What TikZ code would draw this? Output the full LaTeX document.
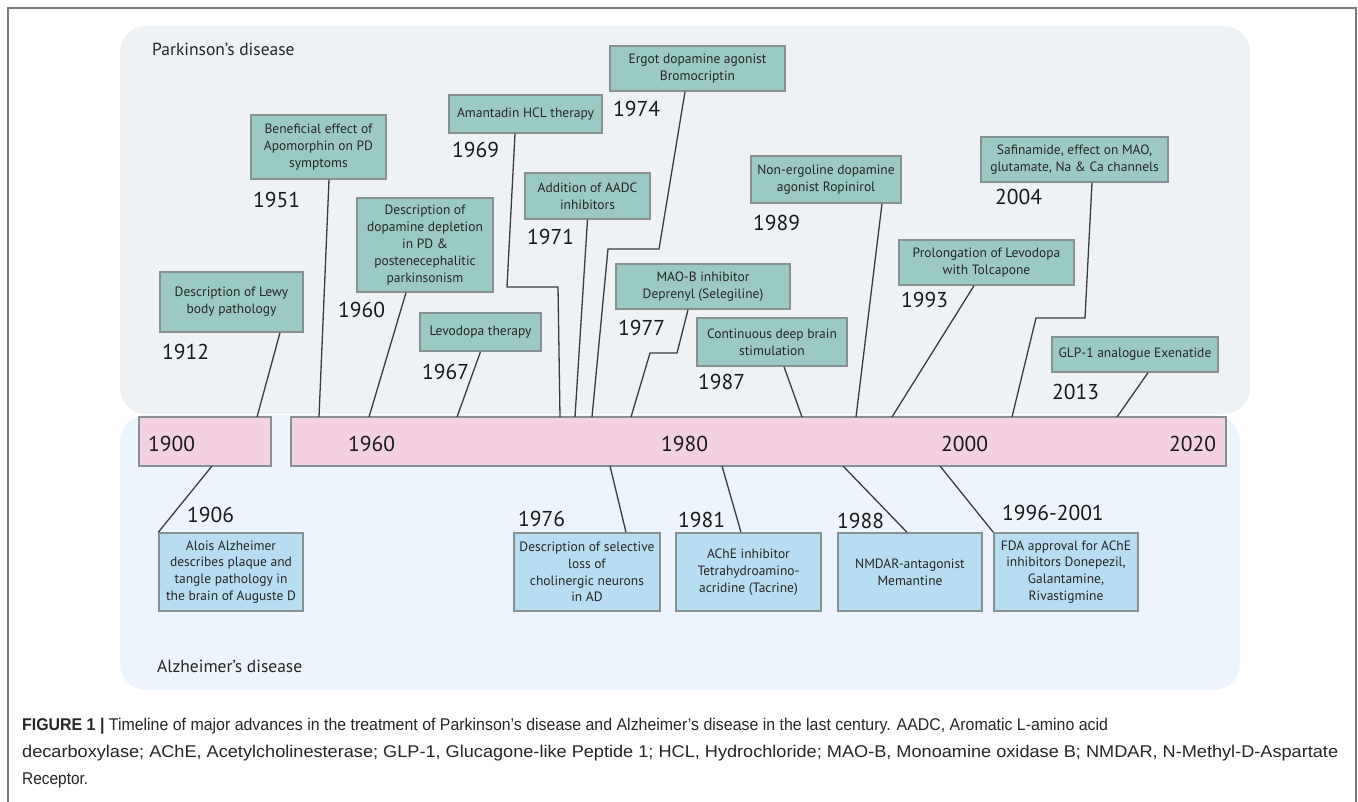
\documentclass[tikz,border=0pt]{standalone}
\usepackage{fontspec}
\usepackage{graphicx}
\setmainfont{PT Sans}
\newfontfamily\capfont[FakeStretch=0.9]{Liberation Sans}
\definecolor{pkbg}{HTML}{EEF2F4}
\definecolor{adbg}{HTML}{EEF4FB}
\definecolor{tealbox}{HTML}{9BCAC4}
\definecolor{bluebox}{HTML}{B6DDF1}
\definecolor{pinkbar}{HTML}{F3D1E3}
\definecolor{edge}{HTML}{879191}
\definecolor{conncol}{HTML}{3C3C3C}
\definecolor{framecol}{HTML}{7A7A7A}
\begin{document}
\begin{tikzpicture}[x=1pt,y=-1pt,
  pbox/.style={draw=edge,fill=tealbox,line width=1.4pt,inner sep=0pt,align=center,
    font=\fontsize{13.5}{16.8}\selectfont,text=black!85},
  abox/.style={draw=edge,fill=bluebox,line width=1.4pt,inner sep=0pt,align=center,
    font=\fontsize{13.5}{16.8}\selectfont,text=black!85},
  bar/.style={draw=edge,fill=pinkbar,line width=1.4pt,inner sep=0pt},
  yr/.style={anchor=west,inner sep=0pt,font=\fontsize{21.5}{21.5}\selectfont,text=black!90},
  conn/.style={draw=conncol,line width=1.3pt},
  title/.style={anchor=west,inner sep=0pt,font=\fontsize{17.5}{17.5}\selectfont,text=black!85}]
\useasboundingbox (0,0) rectangle (1358,802);
\fill[white] (0,0) rectangle (1358,802);
% outer frame
\draw[framecol,line width=1.5pt] (8,802) -- (8,8) -- (1356,8) -- (1356,802);
% panels
\fill[pkbg,rounded corners=26pt] (120,26) rectangle (1250,414);
\fill[adbg,rounded corners=26pt] (120,415) rectangle (1240,690);
\node[title] (pdt) at (152,49) {Parkinson’s disease};
\node[title] (adt) at (157,666) {Alzheimer’s disease};

% bars
\node[bar,minimum width=132pt,minimum height=49pt] (bar1) at (205,441.5) {};
\node[bar,minimum width=935pt,minimum height=49pt] (bar2) at (758.5,441.5) {};
\node[yr] (y1900) at (148,444) {1900};
\node[yr] (y1960b) at (348,444) {1960};
\node[yr] (y1980b) at (661,444) {1980};
\node[yr] (y2000b) at (941,444) {2000};
\node[yr] (y2020b) at (1169,444) {2020};

% Parkinson boxes
\node[pbox,minimum width=143pt,minimum height=60pt] (lewy) at (231.5,302) {Description of Lewy\\body pathology};
\node[pbox,minimum width=135pt,minimum height=64pt] (apo) at (318.5,147) {Beneficial effect of\\Apomorphin on PD\\symptoms};
\node[pbox,minimum width=136pt,minimum height=94pt] (dop) at (425,245) {Description of\\dopamine depletion\\in PD \&\\postenecephalitic\\parkinsonism};
\node[pbox,minimum width=121pt,minimum height=38pt] (levo) at (480.5,332) {Levodopa therapy};
\node[pbox,minimum width=153pt,minimum height=38pt] (aman) at (525.5,114) {Amantadin HCL therapy};
\node[pbox,minimum width=125pt,minimum height=46pt] (aadc) at (587.5,196) {Addition of AADC\\inhibitors};
\node[pbox,minimum width=175pt,minimum height=45pt] (ergot) at (697.5,68.5) {Ergot dopamine agonist\\Bromocriptin};
\node[pbox,minimum width=174pt,minimum height=45pt] (maob) at (703,286.5) {MAO-B inhibitor\\Deprenyl (Selegiline)};
\node[pbox,minimum width=150pt,minimum height=48pt] (dbs) at (772,342) {Continuous deep brain\\stimulation};
\node[pbox,minimum width=150pt,minimum height=47pt] (nerg) at (826,179.5) {Non-ergoline dopamine\\agonist Ropinirol};
\node[pbox,minimum width=175pt,minimum height=45pt] (tolc) at (986.5,262.5) {Prolongation of Levodopa\\with Tolcapone};
\node[pbox,minimum width=187pt,minimum height=45pt] (safi) at (1074.5,159.5) {Safinamide, effect on MAO,\\glutamate, Na \& Ca channels};
\node[pbox,minimum width=166pt,minimum height=35pt] (glp) at (1135,354.5) {GLP-1 analogue Exenatide};

% Parkinson years
\node[yr] (y1912) at (162,352) {1912};
\node[yr] (y1951) at (253,200) {1951};
\node[yr] (y1960) at (338,310) {1960};
\node[yr] (y1967) at (422,372) {1967};
\node[yr] (y1969) at (452,150) {1969};
\node[yr] (y1971) at (527,237) {1971};
\node[yr] (y1974) at (613,109) {1974};
\node[yr] (y1977) at (618,328) {1977};
\node[yr] (y1987) at (698,382) {1987};
\node[yr] (y1989) at (753,223) {1989};
\node[yr] (y1993) at (901,300) {1993};
\node[yr] (y2004) at (995,197) {2004};
\node[yr] (y2013) at (1052,392) {2013};

% bar attachment points (top)
\coordinate (t1912) at (257,417);
\coordinate (t1951) at (319,417);
\coordinate (t1960) at (369,417);
\coordinate (t1967) at (457,417);
\coordinate (t1969) at (560,417);
\coordinate (t1971) at (575,417);
\coordinate (t1974) at (592,417);
\coordinate (t1977) at (631,417);
\coordinate (t1987) at (802,417);
\coordinate (t1989) at (856,417);
\coordinate (t1993) at (892,417);
\coordinate (t2004) at (1012,417);
\coordinate (t2013) at (1117,417);

% Parkinson connectors
\draw[conn] ([xshift=48.5pt]lewy.south) -- (t1912);
\draw[conn] ([xshift=10.5pt]apo.south) -- (t1951);
\draw[conn] ([xshift=-19pt]dop.south) -- (t1960);
\draw[conn] (levo.south) -- (t1967);
\draw[conn] ([xshift=-10.5pt]aman.south) -- (507,287) -- (558,287) -- (t1969);
\draw[conn] (aadc.south) -- (t1971);
\draw[conn] ([xshift=-12.5pt]ergot.south) -- (659,249) -- (608,249) -- (t1974);
\draw[conn] ([xshift=-15pt]maob.south) -- (677,353) -- (650,353) -- (t1977);
\draw[conn] ([xshift=12pt]dbs.south) -- (t1987);
\draw[conn] ([xshift=56pt]nerg.south) -- (t1989);
\draw[conn] ([xshift=-12.5pt]tolc.south) -- (t1993);
\draw[conn] ([xshift=17.5pt]safi.south) -- (1085,318) -- (1036,318) -- (t2004);
\draw[conn] ([xshift=13pt]glp.south) -- (t2013);

% Alzheimer boxes
\node[abox,minimum width=144pt,minimum height=78pt] (alois) at (231,572) {Alois Alzheimer\\describes plaque and\\tangle pathology in\\the brain of Auguste D};
\node[abox,minimum width=146pt,minimum height=78pt] (chol) at (587,572) {Description of selective\\loss of\\cholinergic neurons\\in AD};
\node[abox,minimum width=145pt,minimum height=78pt] (tacr) at (748.5,572) {AChE inhibitor\\Tetrahydroamino-\\acridine (Tacrine)};
\node[abox,minimum width=144pt,minimum height=78pt] (mema) at (910,572) {NMDAR-antagonist\\Memantine};
\node[abox,minimum width=144pt,minimum height=78pt] (fda) at (1066,572) {FDA approval for AChE\\inhibitors Donepezil,\\Galantamine,\\Rivastigmine};

% Alzheimer years
\node[yr] (y1906) at (187,515) {1906};
\node[yr] (y1976) at (518,519) {1976};
\node[yr] (y1981) at (678,520) {1981};
\node[yr] (y1988) at (837,521) {1988};
\node[yr] (y1996) at (1002,513) {1996-2001};

% bar attachment points (bottom)
\coordinate (b1906) at (212,466);
\coordinate (b1976) at (610,466);
\coordinate (b1981) at (722,466);
\coordinate (b1988) at (843,466);
\coordinate (b1996) at (940,466);

\draw[conn] (b1906) -- (alois.north west);
\draw[conn] (b1976) -- ([xshift=39pt]chol.north);
\draw[conn] (b1981) -- ([xshift=-7.5pt]tacr.north);
\draw[conn] (b1988) -- ([xshift=-3pt]mema.north);
\draw[conn] (b1996) -- (fda.north west);

% caption
\node[anchor=west,inner sep=0pt,text=black!85] (cap1) at (22,726) {\resizebox{1086pt}{\height}{\capfont\fontsize{17}{18}\selectfont\textbf{FIGURE 1 |} Timeline of major advances in the treatment of Parkinson’s disease and Alzheimer’s disease in the last century. AADC, Aromatic L-amino acid}};
\node[anchor=west,inner sep=0pt,text=black!85] (cap2) at (22,753) {\resizebox{1316pt}{\height}{\capfont\fontsize{17}{18}\selectfont decarboxylase; AChE, Acetylcholinesterase; GLP-1, Glucagone-like Peptide 1; HCL, Hydrochloride; MAO-B, Monoamine oxidase B; NMDAR, N-Methyl-D-Aspartate}};
\node[anchor=west,inner sep=0pt,text=black!85] (cap3) at (22,780) {\resizebox{66pt}{\height}{\capfont\fontsize{17}{18}\selectfont Receptor.}};
\end{tikzpicture}
\end{document}
